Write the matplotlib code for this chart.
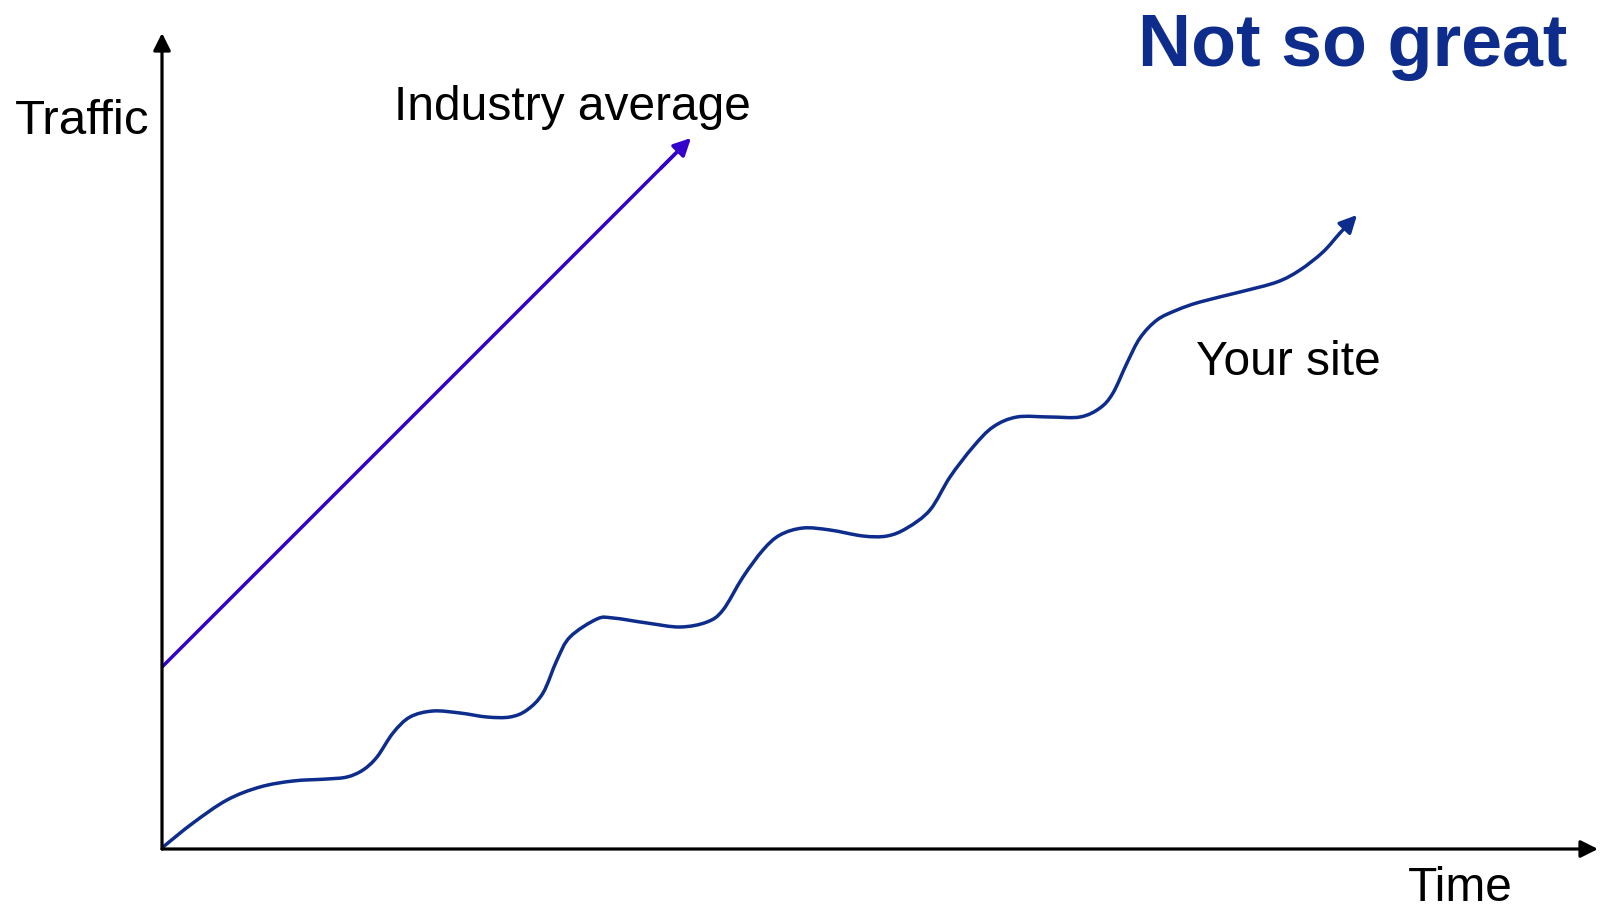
import matplotlib
matplotlib.use("Agg")
import matplotlib.pyplot as plt
from matplotlib.path import Path
from matplotlib.patches import PathPatch
import numpy as np

# ---- data (arbitrary units: time, traffic) ----
site_time = [1, 31, 65, 98, 131, 165, 185, 201, 215, 231, 248, 271, 298, 325, 348,
             365, 381, 395, 408, 435, 451, 485, 518, 545, 561, 581, 601, 618, 641,
             668, 701, 725, 745, 768, 788, 811, 831, 855, 888, 918, 938, 951, 965,
             978, 995, 1015, 1038, 1078, 1115, 1138, 1161, 1178, 1195]
site_traffic = [2, 26, 49, 62, 68, 70, 72, 79, 92, 116, 132, 138, 136, 132, 132,
                139, 156, 189, 212, 230, 231, 226, 222, 227, 239, 272, 299, 314, 321,
                319, 313, 313, 321, 339, 372, 402, 422, 432, 432, 432, 441, 456, 486,
                511, 529, 539, 547, 557, 567, 579, 597, 616, 634]
industry_time = [0, 529]
industry_traffic = [182, 711]
axis_time_max = 1436
axis_traffic_max = 816

title = "Not so great"
y_label = "Traffic"
x_label = "Time"
industry_label = "Industry average"
site_label = "Your site"

SITE_COLOR = "#0D2C8C"
IND_COLOR = "#3300CC"
FONT = "Liberation Sans"
LW = 2.5

fig = plt.figure(figsize=(16.03, 9.09), dpi=100)
ax = fig.add_axes([0, 0, 1, 1])
ax.set_xlim(-162, 1603 - 162)
ax.set_ylim(849 - 909, 849)
ax.axis("off")

# axes arrows
axis_kw = dict(arrowstyle="-|>", color="black", lw=2.3,
               mutation_scale=26, shrinkA=0, shrinkB=0)
ax.annotate("", xy=(0, axis_traffic_max), xytext=(0, 0), arrowprops=axis_kw)
ax.annotate("", xy=(axis_time_max, 0), xytext=(0, 0), arrowprops=axis_kw)

# industry average line with arrow
ax.plot([industry_time[0], industry_time[1] - 8],
        [industry_traffic[0], industry_traffic[1] - 8],
        color=IND_COLOR, lw=LW, solid_capstyle="butt")
ax.annotate("", xy=(industry_time[1], industry_traffic[1]),
            xytext=(industry_time[1] - 30, industry_traffic[1] - 30),
            arrowprops=dict(arrowstyle="-|>", color=IND_COLOR, lw=LW,
                            mutation_scale=26, shrinkA=0, shrinkB=0))

# your site curve: smooth path through the read points (Catmull-Rom as Bezier)
pts = np.column_stack([site_time[:-1], site_traffic[:-1]]).astype(float)
n = len(pts)
verts = [pts[0]]
codes = [Path.MOVETO]
for i in range(n - 1):
    p0 = pts[i - 1] if i > 0 else pts[i]
    p1 = pts[i]
    p2 = pts[i + 1]
    p3 = pts[i + 2] if i + 2 < n else np.array([site_time[-1], site_traffic[-1]], float)
    c1 = p1 + (p2 - p0) / 6.0
    c2 = p2 - (p3 - p1) / 6.0
    verts += [c1, c2, p2]
    codes += [Path.CURVE4] * 3
ax.add_patch(PathPatch(Path(verts, codes), facecolor="none",
                       edgecolor=SITE_COLOR, lw=LW, capstyle="butt"))
ax.annotate("", xy=(site_time[-1], site_traffic[-1]),
            xytext=(site_time[-2], site_traffic[-2]),
            arrowprops=dict(arrowstyle="-|>", color=SITE_COLOR, lw=LW,
                            mutation_scale=26, shrinkA=0, shrinkB=0))

# texts
ax.text(1567 - 162, 849 - 66, title, fontsize=53, fontweight="bold",
        color=SITE_COLOR, family=FONT, ha="right", va="baseline")
ax.text(15 - 162, 849 - 134, y_label, fontsize=35.5, family=FONT,
        ha="left", va="baseline")
ax.text(394 - 162, 849 - 120, industry_label, fontsize=34.5, family=FONT,
        ha="left", va="baseline")
ax.text(1196 - 162, 849 - 375, site_label, fontsize=34.5, family=FONT,
        ha="left", va="baseline")
ax.text(1408 - 162, 849 - 901, x_label, fontsize=34.5, family=FONT,
        ha="left", va="baseline")

fig.savefig("out.png", dpi=100, facecolor="white")
